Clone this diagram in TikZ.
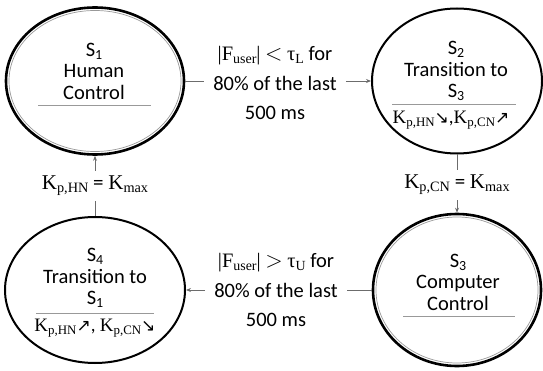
\documentclass[tikz,border=0pt]{standalone}
\usepackage{fontspec}
\usepackage{graphicx}
\setmainfont{Carlito}
\newfontfamily\tms{Liberation Serif}
\newfontfamily\djv{DejaVu Sans}
\usetikzlibrary{shapes.geometric,arrows.meta}

% small lowered index text
\newcommand\lsub[1]{\raisebox{-0.15em}{\scalebox{0.68}{#1}}}
\newcommand\Sn[1]{S\lsub{#1}}
\newcommand\Kp[1]{{\tms K\lsub{p,#1}}}
\newcommand\Kmax{{\tms K\lsub{max}}}
\newcommand\uarr{{\djv\scalebox{0.9}{↗}}}
\newcommand\darr{{\djv\scalebox{0.9}{↘}}}
\newcommand\rel[1]{\scalebox{1.1}{$#1$}}

\tikzset{
  state/.style={ellipse, draw=black, line width=2pt, inner sep=0pt},
  strong/.style={line width=2.6pt},
  inring/.style={draw=gray!80, line width=0.7pt},
  stext/.style={align=center, font=\fontsize{20.5}{21.5}\selectfont, inner sep=0pt},
  klabel/.style={font=\fontsize{19}{21}\selectfont, inner sep=0pt},
  tlabel/.style={align=center, font=\fontsize{20.5}{29.5}\selectfont, inner xsep=9pt, inner ysep=2pt},
  vlabel/.style={font=\fontsize{21}{24}\selectfont, inner xsep=2pt, inner ysep=5pt},
  sep/.style={draw=gray!80, line width=0.7pt},
  conn/.style={draw=gray!85!black, line width=0.8pt},
  tip/.style={-{Stealth[length=5pt,width=4pt]}},
}

\begin{document}
\begin{tikzpicture}[x=1pt, y=-1pt]
\useasboundingbox (0,0) rectangle (543,371);

% the four states
\node[state, strong, minimum width=178pt, minimum height=147pt] (s1) at (95,81) {};
\node[state, minimum width=170pt, minimum height=145pt] (s2) at (457,81) {};
\node[state, strong, minimum width=168pt, minimum height=152pt] (s3) at (457,290) {};
\node[state, minimum width=180pt, minimum height=146pt] (s4) at (95,290) {};

% inner rings of the stable states
\draw[inring] (s1.center) ellipse [x radius=86pt, y radius=70.5pt];
\draw[inring] (s3.center) ellipse [x radius=81pt, y radius=73pt];

% state texts
\node[stext] (t1) at (94,71) {\Sn{1}\\Human\\Control};
\draw[sep] (38,105) -- (151,105);

\node[stext] (t2) at (456,71) {\Sn{2}\\Transition to\\\Sn{3}};
\draw[sep] (392,104) -- (516,104);
\node[klabel] (k2) at (451,120) {\Kp{HN}\darr,\Kp{CN}\uarr};

\node[stext] (t3) at (458,282) {\Sn{3}\\Computer\\Control};
\draw[sep] (403,316) -- (515,316);

\node[stext] (t4) at (95,278) {\Sn{4}\\Transition to\\\Sn{1}};
\draw[sep] (36,313) -- (154,313);
\node[klabel] (k4) at (95,328) {\Kp{HN}\uarr, \Kp{CN}\darr};

% transition conditions
\node[tlabel] (l12) at (275,83) {{\tms |F\lsub{user}|} \rel{<} {\tms τ\lsub{L}} for\\80\% of the last\\500 ms};
\node[vlabel] (l23) at (457,185) {\Kp{CN} = \Kmax};
\node[tlabel] (l34) at (276,290) {{\tms |F\lsub{user}|} \rel{>} {\tms τ\lsub{U}} for\\80\% of the last\\500 ms};
\node[vlabel] (l41) at (95,186) {\Kp{HN} = \Kmax};

% connectors
\draw[conn] (s1.east) -- (l12.west |- s1.east);
\draw[conn, tip] (l12.east |- s2.west) -- (s2.west);
\draw[conn] (s2.south) -- (l23.north);
\draw[conn, tip] (l23.south) -- (s3.north);
\draw[conn] (s3.west) -- (l34.east |- s3.west);
\draw[conn, tip] (l34.west |- s4.east) -- (s4.east);
\draw[conn] (s4.north) -- (l41.south);
\draw[conn, tip] (l41.north) -- (s1.south);
\end{tikzpicture}
\end{document}
